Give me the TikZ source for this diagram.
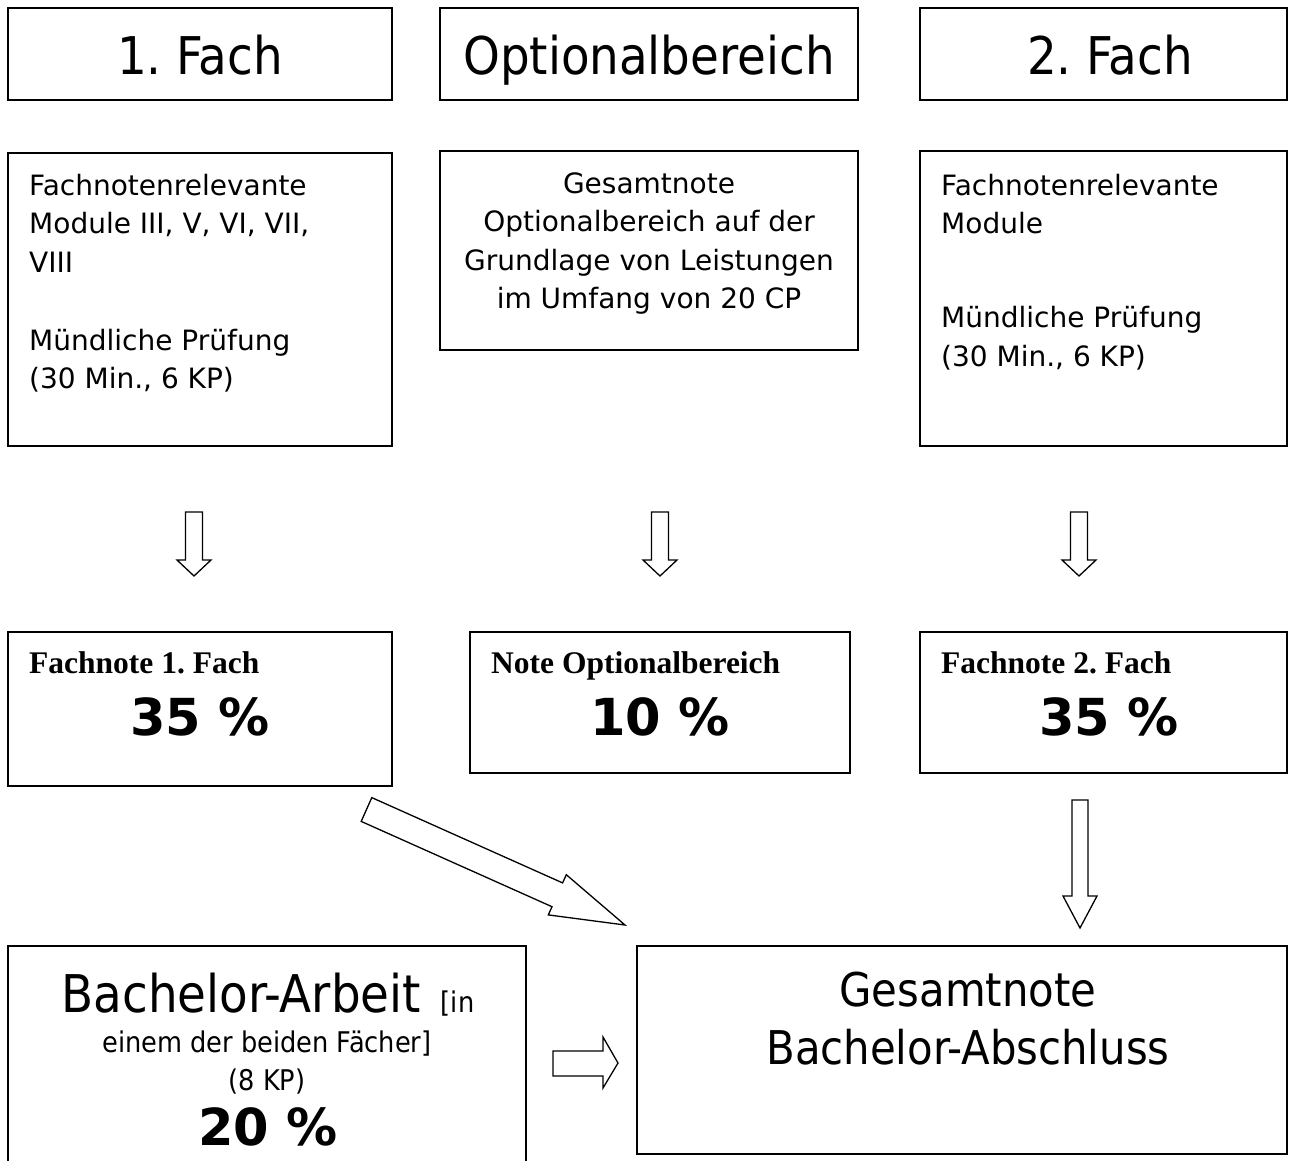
\documentclass[tikz,border=0pt]{standalone}
\usepackage{fontspec}
\setmainfont{DejaVu Sans Condensed}
\newfontfamily\widef{DejaVu Sans}
\newfontfamily\serifb{Liberation Serif}
\frenchspacing
\begin{document}
\begin{tikzpicture}[x=1pt,y=-1pt,
  box/.style={draw=black,line width=1.3pt},
  barrow/.style={draw=black,line width=1.3pt,fill=white,line join=miter},
  big/.style={font=\fontsize{52}{60}\selectfont,inner sep=0pt},
  txt/.style={font=\fontsize{28}{38}\selectfont\widef,inner sep=0pt},
  stxt/.style={font=\fontsize{28.5}{38}\selectfont,inner sep=0pt},
  pct/.style={font=\fontsize{51}{58}\selectfont\widef\bfseries,inner sep=0pt},
  sb/.style={font=\fontsize{31.5}{36}\selectfont\serifb\bfseries,inner sep=0pt}]
\useasboundingbox (0,0) rectangle (1301,1160);
% top row
\draw[box] (8,8) rectangle (392,100);
\draw[box] (440,8) rectangle (858,100);
\draw[box] (920,8) rectangle (1287,100);
\node[big,anchor=base] (t1) at (200,74) {1. Fach};
\node[big,anchor=base] (t2) at (649,74) {Optionalbereich};
\node[big,anchor=base] (t3) at (1110,74) {2. Fach};
% second row
\draw[box] (8,153) rectangle (392,446);
\draw[box] (440,151) rectangle (858,350);
\draw[box] (920,151) rectangle (1287,446);
\node[txt,anchor=base west] (a1) at (29,195) {Fachnotenrelevante};
\node[txt,anchor=base west] (a2) at (29,233) {Module III, V, VI, VII,};
\node[txt,anchor=base west] (a3) at (29,272) {VIII};
\node[txt,anchor=base west] (a4) at (29,350) {Mündliche Prüfung};
\node[txt,anchor=base west] (a5) at (29,388) {(30 Min., 6 KP)};
\node[txt,anchor=base] (b1) at (649,193) {Gesamtnote};
\node[txt,anchor=base] (b2) at (649,231) {Optionalbereich auf der};
\node[txt,anchor=base] (b3) at (649,270) {Grundlage von Leistungen};
\node[txt,anchor=base] (b4) at (649,308) {im Umfang von 20 CP};
\node[txt,anchor=base west] (c1) at (941,195) {Fachnotenrelevante};
\node[txt,anchor=base west] (c2) at (941,233) {Module};
\node[txt,anchor=base west] (c3) at (941,327) {Mündliche Prüfung};
\node[txt,anchor=base west] (c4) at (941,366) {(30 Min., 6 KP)};
% small down arrows
\foreach \cx in {194,660,1079}{
  \draw[barrow] (\cx-8.5,512) -- (\cx+8.5,512) -- (\cx+8.5,560) -- (\cx+17,560)
    -- (\cx,576) -- (\cx-17,560) -- (\cx-8.5,560) -- cycle;
}
% third row
\draw[box] (8,632) rectangle (392,786);
\draw[box] (470,632) rectangle (850,773);
\draw[box] (920,632) rectangle (1287,773);
\node[sb,anchor=base west] (d1) at (29,673) {Fachnote 1. Fach};
\node[pct,anchor=base] (d2) at (200,735) {35 \%};
\node[sb,anchor=base west] (e1) at (491,673) {Note Optionalbereich};
\node[pct,anchor=base] (e2) at (660,735) {10 \%};
\node[sb,anchor=base west] (f1) at (941,673) {Fachnote 2. Fach};
\node[pct,anchor=base] (f2) at (1109,735) {35 \%};
% diagonal arrow
\draw[barrow] (371.8,797.6) -- (562.6,882.9) -- (566.3,874.7) -- (625,925)
  -- (548.3,914.9) -- (552.0,906.7) -- (361.2,821.4) -- cycle;
% right vertical arrow
\draw[barrow] (1072,800) -- (1088,800) -- (1088,896) -- (1097,896) -- (1080,928)
  -- (1063,896) -- (1072,896) -- cycle;
% bottom row
\draw[box] (8,1170) -- (8,946) -- (526,946) -- (526,1170);
\draw[box] (637,946) rectangle (1287,1154);
\node[anchor=base,inner sep=0pt] (g1) at (268,1012)
  {{\fontsize{52}{60}\selectfont Bachelor-Arbeit}\hspace{20pt}\fontsize{28.5}{38}\selectfont[in};
\node[stxt,anchor=base] (g2) at (267,1052) {einem der beiden Fächer]};
\node[stxt,anchor=base] (g3) at (267,1090) {(8 KP)};
\node[pct,anchor=base] (g4) at (268,1145) {20 \%};
\node[anchor=base,inner sep=0pt,font=\fontsize{46.5}{54}\selectfont] (h1) at (968,1006) {Gesamtnote};
\node[anchor=base,inner sep=0pt,font=\fontsize{46.5}{54}\selectfont] (h2) at (968,1064) {Bachelor-Abschluss};
% small right arrow
\draw[barrow] (553,1051) -- (603,1051) -- (603,1037) -- (618,1063) -- (603,1088)
  -- (603,1076) -- (553,1076) -- cycle;
\end{tikzpicture}
\end{document}
